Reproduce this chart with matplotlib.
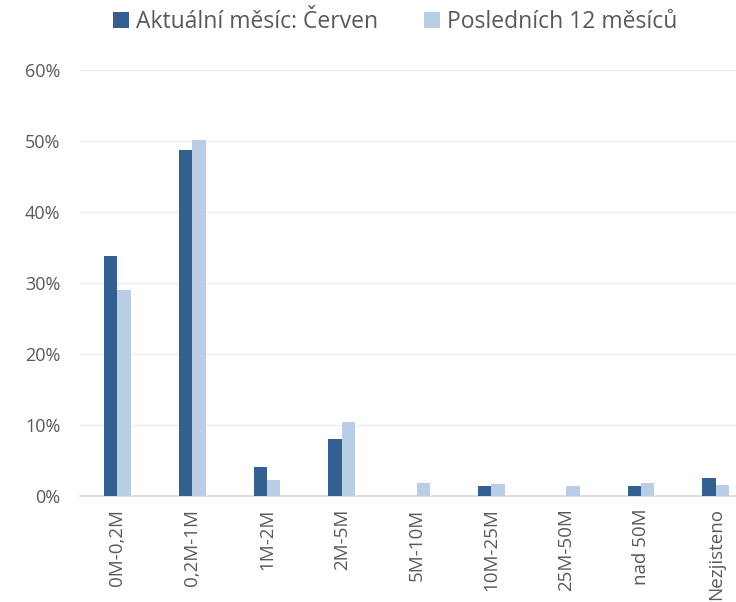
import matplotlib.pyplot as plt
import numpy as np

categories = ["0M-0,2M", "0,2M-1M", "1M-2M", "2M-5M", "5M-10M",
              "10M-25M", "25M-50M", "nad 50M", "Nezjisteno"]
current_month = [33.8, 48.7, 4.1, 8.0, 0.0, 1.35, 0.0, 1.35, 2.6]
last_12_months = [29.0, 50.1, 2.25, 10.4, 1.9, 1.75, 1.35, 1.9, 1.55]
yticks = [0, 10, 20, 30, 40, 50, 60]

plt.rcParams["font.family"] = ["Open Sans", "DejaVu Sans"]
text_color = "#595959"

fig = plt.figure(figsize=(7.36, 6.02), dpi=100)
ax = fig.add_axes([80 / 736, 1 - 496 / 602, 656 / 736, (496 - 70) / 602])

x = np.arange(len(categories))
w = 0.18
ax.bar(x - w / 2, current_month, w, color="#335F91", label="Aktuální měsíc: Červen", zorder=3)
ax.bar(x + w / 2, last_12_months, w, color="#B9CDE5", label="Posledních 12 měsíců", zorder=3)

ax.set_xlim(-0.5, 8.27)
ax.set_ylim(0, 60)
ax.set_yticks(yticks)
ax.set_yticklabels([f"{t}%" for t in yticks], color=text_color, fontsize=13)
ax.set_xticks(x)
ax.set_xticklabels(categories, rotation=90, color=text_color, fontsize=13.5)
ax.tick_params(length=0, axis="both")
ax.tick_params(axis="y", pad=14)
ax.tick_params(axis="x", pad=9)

ax.grid(axis="y", color="#EBEBEB", linewidth=1, zorder=0)
for s in ["top", "right", "left"]:
    ax.spines[s].set_visible(False)
ax.spines["bottom"].set_color("#D9D9D9")
ax.spines["bottom"].set_linewidth(1.2)

leg = fig.legend(loc="center", bbox_to_anchor=(0.537, 1 - 22 / 602), ncol=2, frameon=False,
                 fontsize=16.5, handlelength=0.7, handleheight=0.7, handletextpad=0.3,
                 columnspacing=2.0, labelcolor=text_color)

fig.savefig("out.png", dpi=100)
